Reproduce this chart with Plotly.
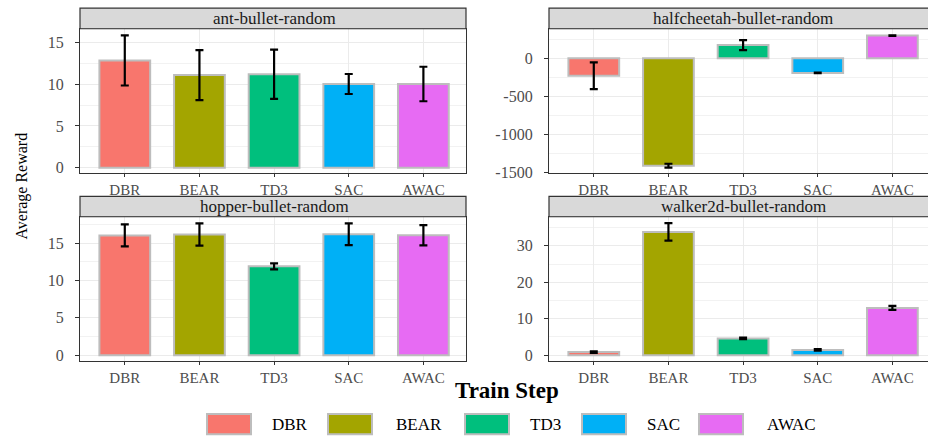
import plotly.graph_objects as go

# ---------------- data ----------------
categories = ["DBR", "BEAR", "TD3", "SAC", "AWAC"]
panel_titles = ["ant-bullet-random", "halfcheetah-bullet-random",
                "hopper-bullet-random", "walker2d-bullet-random"]

ant_mean = [12.85, 11.1, 11.2, 10.03, 10.03]
ant_sd = [3.0, 3.0, 2.95, 1.2, 2.07]

halfcheetah_mean = [-230, -1410, 172, -193, 297]
halfcheetah_sd = [175, 25, 66, 4, 4]

hopper_mean = [16.05, 16.17, 11.9, 16.2, 16.07]
hopper_sd = [1.47, 1.5, 0.4, 1.45, 1.35]

walker_mean = [0.85, 33.8, 4.6, 1.45, 12.95]
walker_sd = [0.2, 2.4, 0.2, 0.2, 0.55]

ant_ticks = [0, 5, 10, 15]
halfcheetah_ticks = [-1500, -1000, -500, 0]
hopper_ticks = [0, 5, 10, 15]
walker_ticks = [0, 10, 20, 30]

bar_colors = ["#F8766D", "#A3A500", "#00BF7D", "#00B0F6", "#E76BF3"]

# ---------------- layout geometry (pixels) ----------------
W, H = 928, 445
FONT = "Liberation Serif, Times New Roman, serif"
STEP = 74.65  # px per category

def px_x(x):
    return x / W

def px_y(y):
    return 1 - y / H

panels = [
    # means, sds, ticks, minor step, y-range, x-dom px, y-dom px, strip y px
    (ant_mean, ant_sd, ant_ticks, 2.5, [-0.62, 16.65], (80, 466), (29.3, 176), (8.3, 29.3)),
    (halfcheetah_mean, halfcheetah_sd, halfcheetah_ticks, 250, [-1504, 386], (549, 928), (29.3, 176), (8.3, 29.3)),
    (hopper_mean, hopper_sd, hopper_ticks, 2.5, [-0.79, 18.55], (80, 466), (220.7, 367.7), (200, 220.7)),
    (walker_mean, walker_sd, walker_ticks, 5, [-1.62, 37.97], (549, 928), (220.7, 367.7), (200, 220.7)),
]

fig = go.Figure()
shapes = []
annotations = []
layout_axes = {}

for i, (means, sds, ticks, minor_step, yrange, xd, yd, sd_px) in enumerate(panels):
    n = i + 1
    xa = "x" if n == 1 else f"x{n}"
    ya = "y" if n == 1 else f"y{n}"
    fig.add_trace(go.Bar(
        x=categories, y=means, xaxis=xa, yaxis=ya,
        width=0.68,
        marker=dict(color=bar_colors, line=dict(color="#BDBDBD", width=2)),
        error_y=dict(type="data", array=sds, visible=True,
                     color="black", thickness=2.2, width=4),
        showlegend=False, hoverinfo="x+y",
    ))
    is_right = xd[1] >= W
    xmax = -0.6 + (xd[1] - xd[0]) / STEP
    layout_axes["xaxis" if n == 1 else f"xaxis{n}"] = dict(
        domain=[px_x(xd[0]), px_x(xd[1])], anchor=ya,
        type="category", range=[-0.6, xmax],
        showgrid=True, gridcolor="#EBEBEB", gridwidth=1.3,
        showline=True, mirror=True, linecolor="#333333", linewidth=1.2,
        ticks="outside", ticklen=3, tickcolor="#333333", tickwidth=1.2,
        tickfont=dict(family=FONT, size=15, color="#4D4D4D"),
        zeroline=False, fixedrange=True,
    )
    layout_axes["yaxis" if n == 1 else f"yaxis{n}"] = dict(
        domain=[px_y(yd[1]), px_y(yd[0])], anchor=xa,
        range=yrange,
        tickmode="array", tickvals=ticks, ticktext=[str(t) for t in ticks],
        showgrid=True, gridcolor="#EBEBEB", gridwidth=1.3,
        minor=dict(tick0=0, dtick=minor_step, showgrid=True,
                   gridcolor="#F2F2F2", gridwidth=1, ticks=""),
        showline=True, mirror=not is_right, linecolor="#333333", linewidth=1.2,
        ticks="outside", ticklen=4, tickcolor="#333333", tickwidth=1.2,
        tickfont=dict(family=FONT, size=16, color="#4D4D4D"),
        ticklabelstandoff=8,
        zeroline=False, fixedrange=True,
    )
    # facet strip
    shapes.append(dict(type="rect", xref="paper", yref="paper",
                       x0=px_x(xd[0]), x1=px_x(xd[1]) + (0.01 if is_right else 0),
                       y0=px_y(sd_px[1]), y1=px_y(sd_px[0]),
                       fillcolor="#D9D9D9", line=dict(color="#333333", width=1.2),
                       layer="above"))
    annotations.append(dict(text=panel_titles[i], xref="paper", yref="paper",
                            x=px_x(xd[0] + STEP * 5.2 / 2),
                            y=px_y((sd_px[0] + sd_px[1]) / 2),
                            xanchor="center", yanchor="middle", showarrow=False,
                            font=dict(family=FONT, size=17, color="#1A1A1A")))

# axis titles
annotations.append(dict(text="Average Reward", xref="paper", yref="paper",
                        x=px_x(22), y=px_y(190), textangle=-90,
                        xanchor="center", yanchor="middle", showarrow=False,
                        font=dict(family=FONT, size=16, color="black")))
annotations.append(dict(text="<b>Train Step</b>", xref="paper", yref="paper",
                        x=px_x(507), y=px_y(398),
                        xanchor="center", yanchor="middle", showarrow=False,
                        font=dict(family=FONT, size=23, color="black")))

# legend (drawn manually: large keys as in the reference)
key_x = [207, 328, 465, 582, 699]
text_cx = [290, 419, 545, 663, 791]
for cat, col, kx, tx in zip(categories, bar_colors, key_x, text_cx):
    shapes.append(dict(type="rect", xref="paper", yref="paper",
                       x0=px_x(kx), x1=px_x(kx + 44),
                       y0=px_y(442.3), y1=px_y(421.7),
                       fillcolor=col, line=dict(color="#BDBDBD", width=2)))
    annotations.append(dict(text=cat, xref="paper", yref="paper",
                            x=px_x(tx), y=px_y(432),
                            xanchor="center", yanchor="middle", showarrow=False,
                            font=dict(family=FONT, size=17, color="black")))

fig.update_layout(
    width=W, height=H, autosize=False,
    margin=dict(l=0, r=0, t=0, b=0),
    paper_bgcolor="white", plot_bgcolor="white",
    bargap=0.3,
    shapes=shapes, annotations=annotations,
    showlegend=False,
    **layout_axes,
)

fig.write_html("out.html",
               config={"displayModeBar": False},
               post_script="document.body.style.margin='0';document.body.style.overflow='hidden';")
